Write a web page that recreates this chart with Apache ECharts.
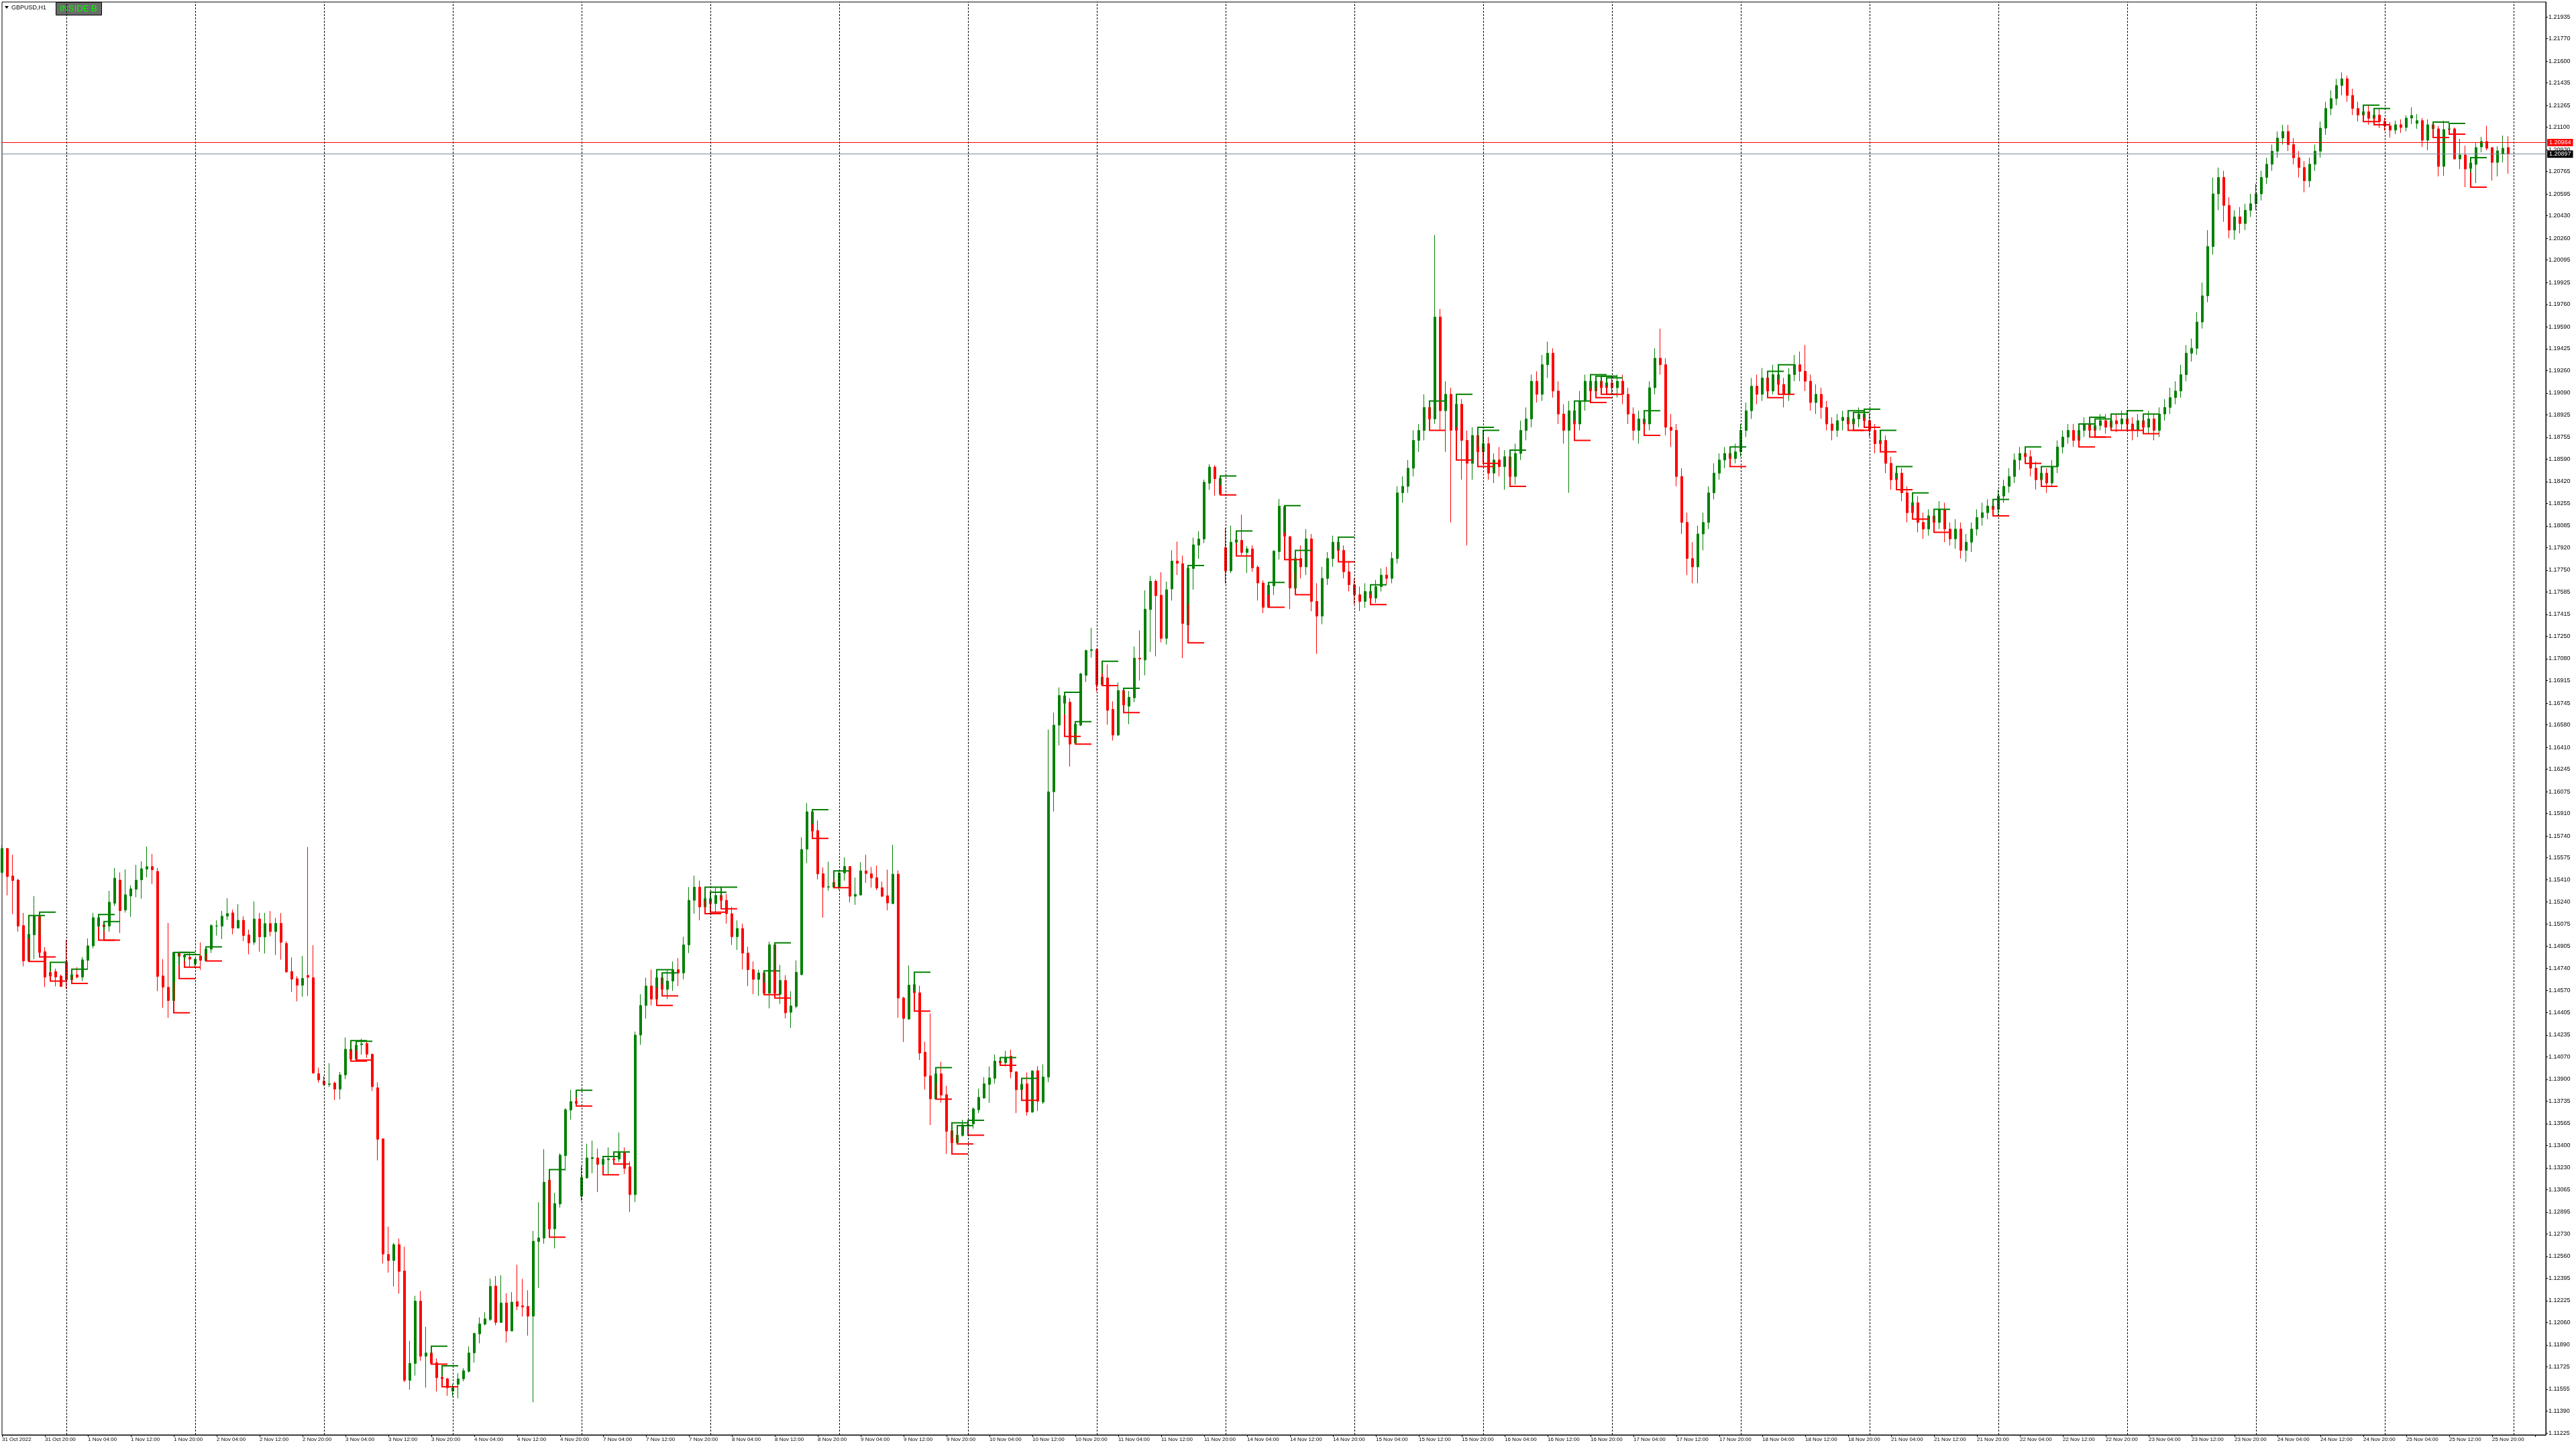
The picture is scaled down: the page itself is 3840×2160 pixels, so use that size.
<!DOCTYPE html>
<html><head><meta charset="utf-8">
<script src="https://cdn.jsdelivr.net/npm/echarts/dist/echarts.min.js"></script>
<style>html,body{margin:0;padding:0;background:#fff}#c{width:3840px;height:2160px}</style>
</head><body><div id="c"></div>
<script>
// ---- trading sessions (H1 bars) ----
const sessionDays = ['31 Oct','1 Nov','2 Nov','3 Nov','4 Nov','7 Nov','8 Nov','9 Nov','10 Nov','11 Nov',
  '14 Nov','15 Nov','16 Nov','17 Nov','18 Nov','21 Nov','22 Nov','23 Nov','24 Nov','25 Nov','26 Nov'];
const firstHour = 12;      // first bar: 31 Oct 12:00
const padBars = 7;         // empty space right of the last bar

// ---- price axis tick labels ----
const yTickLabels = [1.11225,1.11390,1.11555,1.11725,1.11890,1.12060,1.12225,1.12395,1.12560,1.12730,1.12895,
  1.13065,1.13230,1.13400,1.13565,1.13735,1.13900,1.14070,1.14235,1.14405,1.14570,1.14740,1.14905,
  1.15075,1.15240,1.15410,1.15575,1.15740,1.15910,1.16075,1.16245,1.16410,1.16580,1.16745,1.16915,
  1.17080,1.17250,1.17415,1.17585,1.17750,1.17920,1.18085,1.18255,1.18420,1.18590,1.18755,1.18925,
  1.19090,1.19260,1.19425,1.19590,1.19760,1.19925,1.20095,1.20260,1.20430,1.20595,1.20765,1.20930,
  1.21100,1.21265,1.21435,1.21600,1.21770,1.21935];
const yMin = 1.11210, yMax = 1.22047;
const redLevel = 1.20984;
const bidLevel = 1.20897;

// ---- hourly bars per day: [open, high, low, close] ----
const oct31 = [
 [1.15464,1.15670,1.15454,1.15645],[1.15645,1.15648,1.15290,1.15433],[1.15437,1.15599,1.15149,1.15403],
 [1.15406,1.15416,1.15016,1.15058],[1.15062,1.15158,1.14754,1.14795],[1.14795,1.15138,1.14791,1.14996],
 [1.14992,1.15285,1.14808,1.15133],[1.15133,1.15163,1.14825,1.14859],[1.14864,1.14899,1.14597,1.14673],
 [1.14681,1.14784,1.14642,1.14707],[1.14715,1.14737,1.14602,1.14673],[1.14680,1.14691,1.14598,1.14602]];
const nov01 = [
 [1.14788,1.14953,1.14583,1.14652],[1.14652,1.14732,1.14625,1.14690],[1.14690,1.14747,1.14663,1.14673],
 [1.14673,1.14825,1.14642,1.14803],[1.14800,1.14965,1.14732,1.14909],[1.14909,1.15158,1.14891,1.15122],
 [1.15122,1.15146,1.14952,1.15058],[1.15067,1.15092,1.14952,1.15053],[1.15058,1.15325,1.15016,1.15239],
 [1.15231,1.15498,1.15210,1.15421],[1.15406,1.15464,1.15006,1.15175],[1.15180,1.15487,1.15160,1.15295],
 [1.15286,1.15366,1.15129,1.15340],[1.15337,1.15521,1.15276,1.15406],[1.15408,1.15548,1.15266,1.15492],
 [1.15489,1.15660,1.15427,1.15508],[1.15508,1.15604,1.15376,1.15484],[1.15472,1.15498,1.14566,1.14678],
 [1.14681,1.14808,1.14440,1.14597],[1.14595,1.15082,1.14364,1.14495],[1.14495,1.14859,1.14402,1.14859],
 [1.14854,1.14859,1.14661,1.14830],[1.14838,1.14842,1.14747,1.14825],[1.14823,1.14862,1.14747,1.14808]];
const nov02 = [
 [1.14774,1.14811,1.14740,1.14808],[1.14833,1.14935,1.14727,1.14800],[1.14796,1.14901,1.14795,1.14884],
 [1.14884,1.15072,1.14855,1.15062],[1.15058,1.15102,1.14987,1.15060],[1.15058,1.15173,1.14960,1.15133],
 [1.15133,1.15269,1.15104,1.15153],[1.15158,1.15183,1.14996,1.15043],[1.15043,1.15224,1.15043,1.15102],
 [1.15102,1.15133,1.14945,1.14987],[1.14991,1.15031,1.14845,1.14931],[1.14936,1.15244,1.14916,1.15112],
 [1.15112,1.15158,1.14865,1.14977],[1.14976,1.15158,1.14851,1.15077],[1.15077,1.15172,1.14981,1.15017],
 [1.15017,1.15120,1.14840,1.15079],[1.15079,1.15156,1.14804,1.14935],[1.14927,1.14943,1.14704,1.14712],
 [1.14715,1.14821,1.14560,1.14657],[1.14660,1.14679,1.14489,1.14611],[1.14611,1.14832,1.14524,1.14663],
 [1.14685,1.15656,1.14530,1.14671],[1.14668,1.14913,1.13942,1.13947],[1.13942,1.13988,1.13874,1.13895]];
const nov03 = [
 [1.13887,1.13923,1.13852,1.13860],[1.13860,1.14021,1.13841,1.13865],[1.13871,1.13882,1.13743,1.13825],
 [1.13825,1.13955,1.13748,1.13933],[1.13933,1.14216,1.13901,1.14127],[1.14127,1.14192,1.14037,1.14053],
 [1.14053,1.14187,1.14045,1.14157],[1.14162,1.14206,1.14086,1.14168],[1.14170,1.14184,1.14061,1.14089],
 [1.14089,1.14094,1.13811,1.13844],[1.13835,1.13876,1.13286,1.13446],[1.13449,1.13452,1.12507,1.12578],
 [1.12575,1.12785,1.12437,1.12529],[1.12529,1.12662,1.12333,1.12649],[1.12649,1.12695,1.12279,1.12447],
 [1.12450,1.12633,1.11609,1.11623],[1.11623,1.11922,1.11552,1.11751],[1.11751,1.12262,1.11658,1.12222],
 [1.12222,1.12298,1.11770,1.11805],[1.11805,1.12028,1.11568,1.11830],[1.11830,1.11881,1.11745,1.11751],
 [1.11756,1.11789,1.11538,1.11642],[1.11645,1.11732,1.11574,1.11636],[1.11634,1.11642,1.11506,1.11566]];
const nov04 = [
 [1.11541,1.11595,1.11500,1.11566],[1.11593,1.11677,1.11487,1.11634],[1.11634,1.11715,1.11615,1.11696],
 [1.11691,1.11879,1.11683,1.11830],[1.11830,1.11982,1.11756,1.11977],[1.11974,1.12099,1.11903,1.12050],
 [1.12047,1.12137,1.12039,1.12088],[1.12083,1.12393,1.12072,1.12333],[1.12336,1.12412,1.12039,1.12061],
 [1.12061,1.12418,1.12056,1.12208],[1.12208,1.12281,1.11908,1.11996],[1.11996,1.12290,1.11996,1.12214],
 [1.12218,1.12497,1.12154,1.12183],[1.12187,1.12390,1.12105,1.12178],[1.12182,1.12304,1.11961,1.12108],
 [1.12108,1.12752,1.11457,1.12675],[1.12672,1.12969,1.12322,1.12700],[1.12698,1.13371,1.12656,1.13121],
 [1.13137,1.13217,1.12705,1.12768],[1.12768,1.13041,1.12621,1.12960],[1.12957,1.13340,1.12929,1.13326],
 [1.13322,1.13681,1.13210,1.13670],[1.13667,1.13819,1.13595,1.13732],[1.13732,1.13816,1.13697,1.13718]];
const nov07 = [
 [1.13016,1.13244,1.12979,1.13158],[1.13154,1.13412,1.13149,1.13305],[1.13300,1.13436,1.13189,1.13308],
 [1.13305,1.13376,1.13046,1.13256],[1.13256,1.13315,1.13177,1.13294],[1.13291,1.13385,1.13177,1.13298],
 [1.13298,1.13350,1.13259,1.13291],[1.13296,1.13497,1.13272,1.13347],[1.13347,1.13385,1.13184,1.13226],
 [1.13238,1.13279,1.12895,1.13027],[1.13027,1.14260,1.12971,1.14234],[1.14234,1.14543,1.14160,1.14458],
 [1.14458,1.14667,1.14358,1.14605],[1.14605,1.14729,1.14458,1.14506],[1.14506,1.14729,1.14458,1.14667],
 [1.14667,1.14704,1.14530,1.14580],[1.14580,1.14729,1.14506,1.14642],[1.14642,1.14791,1.14568,1.14729],
 [1.14729,1.14816,1.14605,1.14704],[1.14704,1.14978,1.14655,1.14916],[1.14916,1.15353,1.14854,1.15253],
 [1.15253,1.15440,1.15152,1.15353],[1.15353,1.15402,1.15102,1.15203],[1.15203,1.15353,1.15152,1.15266]];
const nov08 = [
 [1.15266,1.15315,1.15164,1.15228],[1.15228,1.15353,1.15164,1.15290],[1.15290,1.15353,1.15189,1.15253],
 [1.15253,1.15303,1.15077,1.15152],[1.15152,1.15203,1.14916,1.14978],[1.14978,1.15102,1.14878,1.15040],
 [1.15040,1.15077,1.14729,1.14854],[1.14854,1.14903,1.14605,1.14729],[1.14729,1.14791,1.14543,1.14655],
 [1.14655,1.14729,1.14530,1.14704],[1.14705,1.14720,1.14540,1.14551],[1.14551,1.14941,1.14436,1.14917],
 [1.14917,1.14932,1.14514,1.14551],[1.14542,1.14765,1.14469,1.14647],[1.14647,1.14687,1.14360,1.14402],
 [1.14406,1.14565,1.14288,1.14455],[1.14451,1.14799,1.14436,1.14709],[1.14691,1.15730,1.14687,1.15638],
 [1.15640,1.15988,1.15534,1.15923],[1.15923,1.15939,1.15721,1.15776],[1.15781,1.15857,1.15411,1.15453],
 [1.15454,1.15502,1.15122,1.15351],[1.15353,1.15545,1.15326,1.15356],[1.15353,1.15476,1.15349,1.15389]];
const nov09 = [
 [1.15353,1.15480,1.15331,1.15460],[1.15460,1.15578,1.15402,1.15509],[1.15509,1.15512,1.15238,1.15284],
 [1.15284,1.15425,1.15219,1.15298],[1.15293,1.15542,1.15293,1.15476],[1.15476,1.15598,1.15385,1.15456],
 [1.15454,1.15505,1.15349,1.15422],[1.15425,1.15516,1.15331,1.15346],[1.15349,1.15395,1.15277,1.15284],
 [1.15288,1.15485,1.15177,1.15233],[1.15228,1.15674,1.15224,1.15451],[1.15451,1.15480,1.14364,1.14514],
 [1.14514,1.14524,1.14182,1.14360],[1.14355,1.14760,1.14351,1.14612],[1.14616,1.14710,1.14415,1.14554],
 [1.14554,1.14607,1.14046,1.14097],[1.14104,1.14184,1.13821,1.13923],[1.13925,1.14398,1.13553,1.13752],
 [1.13752,1.13988,1.13749,1.13941],[1.13941,1.14032,1.13722,1.13780],[1.13783,1.13850,1.13335,1.13506],
 [1.13511,1.13571,1.13335,1.13420],[1.13420,1.13549,1.13411,1.13478],[1.13475,1.13593,1.13466,1.13555]];
const nov10 = [
 [1.13555,1.13589,1.13477,1.13558],[1.13562,1.13687,1.13526,1.13676],[1.13669,1.13829,1.13644,1.13763],
 [1.13758,1.13916,1.13752,1.13865],[1.13861,1.13997,1.13722,1.13910],[1.13907,1.14088,1.13867,1.14037],
 [1.14037,1.14064,1.14006,1.14025],[1.14025,1.14115,1.13997,1.14066],[1.14074,1.14124,1.13907,1.13956],
 [1.13956,1.13959,1.13644,1.13821],[1.13821,1.13907,1.13740,1.13861],[1.13865,1.13952,1.13625,1.13653],
 [1.13652,1.13969,1.13645,1.13962],[1.13965,1.13999,1.13659,1.13734],[1.13727,1.14013,1.13713,1.13917],
 [1.13917,1.16544,1.13877,1.16074],[1.16074,1.16673,1.15925,1.16578],[1.16578,1.16863,1.16425,1.16802],
 [1.16799,1.16826,1.16493,1.16744],[1.16751,1.16782,1.16265,1.16435],[1.16442,1.16605,1.16435,1.16585],
 [1.16578,1.16972,1.16571,1.16966],[1.16955,1.17149,1.16904,1.17142],[1.17142,1.17313,1.17088,1.17149]];
const nov11 = [
 [1.17149,1.17156,1.16833,1.16884],[1.16884,1.17061,1.16877,1.16942],[1.16935,1.17037,1.16581,1.16690],
 [1.16697,1.16758,1.16462,1.16503],[1.16503,1.16901,1.16496,1.16840],[1.16840,1.16857,1.16673,1.16731],
 [1.16721,1.16836,1.16585,1.16789],[1.16785,1.17173,1.16751,1.17085],[1.17085,1.17295,1.16915,1.17078],
 [1.17071,1.17598,1.16955,1.17455],[1.17452,1.17707,1.17132,1.17666],[1.17666,1.17680,1.17098,1.17557],
 [1.17561,1.17734,1.17204,1.17234],[1.17234,1.17663,1.17187,1.17602],[1.17608,1.17901,1.17520,1.17819],
 [1.17819,1.17966,1.17714,1.17802],[1.17799,1.17860,1.17085,1.17347],[1.17336,1.17785,1.17200,1.17765],
 [1.17762,1.17996,1.17602,1.17942],[1.17939,1.18044,1.17836,1.17986],[1.17986,1.18435,1.17955,1.18415],
 [1.18408,1.18551,1.18357,1.18530],[1.18530,1.18544,1.18313,1.18442],[1.18445,1.18462,1.18319,1.18326]];
const nov14 = [
 [1.17921,1.18068,1.17649,1.17745],[1.17745,1.18088,1.17728,1.17962],[1.17962,1.18047,1.17857,1.17979],
 [1.17976,1.18170,1.17864,1.17884],[1.17884,1.17932,1.17728,1.17911],[1.17911,1.17939,1.17738,1.17768],
 [1.17772,1.17785,1.17520,1.17653],[1.17653,1.17673,1.17425,1.17469],[1.17469,1.17657,1.17469,1.17636],
 [1.17632,1.17901,1.17561,1.17894],[1.17891,1.18289,1.17830,1.18234],[1.18231,1.18238,1.17830,1.18007],
 [1.18003,1.18010,1.17455,1.17615],[1.17614,1.17900,1.17564,1.17838],[1.17838,1.17937,1.17688,1.17775],
 [1.17775,1.18061,1.17713,1.17987],[1.17987,1.18024,1.17440,1.17514],[1.17514,1.17651,1.17117,1.17403],
 [1.17403,1.17775,1.17341,1.17688],[1.17688,1.17887,1.17639,1.17838],[1.17838,1.18011,1.17775,1.17962],
 [1.17962,1.17999,1.17813,1.17900],[1.17900,1.17937,1.17688,1.17738],[1.17738,1.17813,1.17589,1.17639]];
const nov15 = [
 [1.17639,1.17688,1.17490,1.17564],[1.17564,1.17626,1.17440,1.17514],[1.17514,1.17651,1.17465,1.17589],
 [1.17589,1.17639,1.17490,1.17539],[1.17539,1.17676,1.17502,1.17626],[1.17626,1.17763,1.17589,1.17713],
 [1.17713,1.17775,1.17639,1.17688],[1.17688,1.17887,1.17651,1.17838],[1.17838,1.18384,1.17800,1.18335],
 [1.18335,1.18459,1.18260,1.18384],[1.18384,1.18583,1.18335,1.18521],[1.18521,1.18807,1.18459,1.18732],
 [1.18732,1.18856,1.18645,1.18807],[1.18807,1.19080,1.18732,1.18981],[1.18981,1.19030,1.18807,1.18894],
 [1.18894,1.20285,1.18856,1.19664],[1.19664,1.19726,1.18807,1.18956],[1.18956,1.19179,1.18645,1.19080],
 [1.19080,1.19130,1.18111,1.18807],[1.18807,1.19080,1.18583,1.19005],[1.19005,1.19043,1.18434,1.18732],
 [1.18732,1.18807,1.17937,1.18558],[1.18558,1.18831,1.18434,1.18769],[1.18769,1.18831,1.18533,1.18645]];
const nov16 = [
 [1.18645,1.18807,1.18558,1.18707],[1.18707,1.18757,1.18434,1.18484],[1.18484,1.18633,1.18409,1.18583],
 [1.18583,1.18682,1.18459,1.18533],[1.18533,1.18658,1.18359,1.18608],[1.18608,1.18658,1.18384,1.18459],
 [1.18459,1.18707,1.18397,1.18633],[1.18633,1.18881,1.18583,1.18807],[1.18807,1.18981,1.18732,1.18894],
 [1.18894,1.19229,1.18831,1.19179],[1.19179,1.19254,1.19018,1.19080],[1.19080,1.19378,1.19030,1.19304],
 [1.19304,1.19478,1.19204,1.19391],[1.19391,1.19428,1.19055,1.19105],[1.19105,1.19179,1.18856,1.18931],
 [1.18931,1.19005,1.18707,1.18807],[1.18807,1.19030,1.18335,1.18956],[1.18956,1.19030,1.18732,1.18856],
 [1.18856,1.19105,1.18807,1.19030],[1.19030,1.19229,1.18956,1.19179],[1.19179,1.19229,1.19018,1.19105],
 [1.19105,1.19217,1.19055,1.19179],[1.19179,1.19217,1.19080,1.19130],[1.19130,1.19204,1.19080,1.19167]];
const nov17 = [
 [1.19167,1.19217,1.19080,1.19130],[1.19130,1.19229,1.19055,1.19179],[1.19179,1.19229,1.19005,1.19080],
 [1.19080,1.19130,1.18856,1.18931],[1.18931,1.18981,1.18732,1.18807],[1.18807,1.18956,1.18707,1.18894],
 [1.18894,1.18956,1.18769,1.18856],[1.18856,1.19179,1.18807,1.19130],[1.19130,1.19428,1.19080,1.19353],
 [1.19353,1.19577,1.19229,1.19304],[1.19304,1.19353,1.18769,1.18831],[1.18831,1.18931,1.18682,1.18807],
 [1.18807,1.18856,1.18384,1.18459],[1.18459,1.18521,1.18024,1.18111],[1.18111,1.18185,1.17713,1.17838],
 [1.17838,1.17962,1.17651,1.17775],[1.17775,1.18086,1.17651,1.18024],[1.18024,1.18185,1.17900,1.18111],
 [1.18111,1.18384,1.18061,1.18335],[1.18335,1.18558,1.18285,1.18484],[1.18484,1.18633,1.18434,1.18583],
 [1.18583,1.18682,1.18521,1.18633],[1.18633,1.18682,1.18533,1.18595],[1.18595,1.18707,1.18558,1.18645]];
const nov18 = [
 [1.18645,1.18856,1.18608,1.18807],[1.18807,1.19018,1.18757,1.18956],[1.18956,1.19204,1.18894,1.19142],
 [1.19142,1.19229,1.19005,1.19080],[1.19080,1.19279,1.19030,1.19204],[1.19204,1.19254,1.19055,1.19105],
 [1.19105,1.19304,1.19080,1.19229],[1.19229,1.19304,1.19080,1.19155],[1.19155,1.19204,1.18981,1.19080],
 [1.19080,1.19279,1.19030,1.19229],[1.19229,1.19378,1.19179,1.19304],[1.19304,1.19403,1.19179,1.19254],
 [1.19254,1.19453,1.19105,1.19179],[1.19179,1.19229,1.18956,1.19018],[1.19018,1.19155,1.18931,1.19080],
 [1.19080,1.19130,1.18894,1.18981],[1.18981,1.19030,1.18807,1.18856],[1.18856,1.18906,1.18732,1.18807],
 [1.18807,1.18931,1.18757,1.18881],[1.18881,1.18956,1.18807,1.18906],[1.18906,1.18956,1.18807,1.18856],
 [1.18856,1.18943,1.18807,1.18894],[1.18894,1.18981,1.18831,1.18931],[1.18931,1.18968,1.18831,1.18881]];
const nov21 = [
 [1.18881,1.18931,1.18757,1.18807],[1.18807,1.18856,1.18633,1.18707],[1.18707,1.18807,1.18645,1.18732],
 [1.18732,1.18769,1.18484,1.18558],[1.18558,1.18608,1.18359,1.18434],[1.18434,1.18533,1.18359,1.18484],
 [1.18484,1.18521,1.18272,1.18335],[1.18335,1.18384,1.18111,1.18185],[1.18185,1.18335,1.18136,1.18260],
 [1.18260,1.18310,1.18036,1.18111],[1.18111,1.18185,1.17987,1.18061],[1.18061,1.18210,1.18011,1.18161],
 [1.18161,1.18210,1.18036,1.18111],[1.18111,1.18272,1.18061,1.18210],[1.18210,1.18260,1.17962,1.18061],
 [1.18061,1.18111,1.17937,1.17987],[1.17987,1.18136,1.17912,1.18061],[1.18061,1.18111,1.17838,1.17900],
 [1.17900,1.18024,1.17813,1.17962],[1.17962,1.18111,1.17887,1.18061],[1.18061,1.18210,1.18011,1.18148],
 [1.18148,1.18260,1.18086,1.18185],[1.18185,1.18285,1.18136,1.18235],[1.18235,1.18285,1.18161,1.18210]];
const nov22 = [
 [1.18210,1.18359,1.18161,1.18310],[1.18310,1.18434,1.18260,1.18384],[1.18384,1.18521,1.18335,1.18459],
 [1.18459,1.18633,1.18409,1.18583],[1.18583,1.18682,1.18508,1.18633],[1.18633,1.18682,1.18558,1.18608],
 [1.18608,1.18658,1.18459,1.18521],[1.18521,1.18571,1.18359,1.18434],[1.18434,1.18533,1.18384,1.18484],
 [1.18484,1.18521,1.18335,1.18409],[1.18409,1.18583,1.18384,1.18533],[1.18533,1.18732,1.18484,1.18682],
 [1.18682,1.18807,1.18633,1.18757],[1.18757,1.18856,1.18707,1.18807],[1.18807,1.18856,1.18682,1.18732],
 [1.18732,1.18856,1.18682,1.18807],[1.18807,1.18906,1.18757,1.18856],[1.18856,1.18906,1.18757,1.18807],
 [1.18807,1.18894,1.18757,1.18844],[1.18844,1.18931,1.18807,1.18881],[1.18881,1.18931,1.18782,1.18831],
 [1.18831,1.18931,1.18807,1.18881],[1.18881,1.18931,1.18794,1.18856],[1.18856,1.18956,1.18807,1.18894]];
const nov23 = [
 [1.18894,1.18956,1.18807,1.18856],[1.18856,1.18906,1.18732,1.18807],[1.18807,1.18931,1.18757,1.18881],
 [1.18881,1.18931,1.18782,1.18831],[1.18831,1.18956,1.18782,1.18894],[1.18894,1.18931,1.18732,1.18807],
 [1.18807,1.18981,1.18757,1.18931],[1.18931,1.19043,1.18881,1.18981],[1.18981,1.19130,1.18931,1.19055],
 [1.19055,1.19179,1.19005,1.19105],[1.19105,1.19304,1.19055,1.19229],[1.19229,1.19453,1.19179,1.19391],
 [1.19391,1.19502,1.19328,1.19428],[1.19428,1.19701,1.19378,1.19627],[1.19627,1.19925,1.19577,1.19825],
 [1.19825,1.20322,1.19776,1.20198],[1.20198,1.20720,1.20136,1.20596],[1.20596,1.20795,1.20472,1.20720],
 [1.20720,1.20770,1.20385,1.20509],[1.20509,1.20571,1.20260,1.20322],[1.20322,1.20472,1.20248,1.20422],
 [1.20422,1.20496,1.20298,1.20372],[1.20372,1.20521,1.20322,1.20472],[1.20472,1.20596,1.20422,1.20521]];
const nov24 = [
 [1.20521,1.20670,1.20472,1.20596],[1.20596,1.20770,1.20546,1.20720],[1.20720,1.20869,1.20670,1.20820],
 [1.20820,1.20969,1.20770,1.20919],[1.20919,1.21068,1.20869,1.21018],[1.21018,1.21118,1.20969,1.21068],
 [1.21068,1.21118,1.20919,1.20969],[1.20969,1.21018,1.20820,1.20869],[1.20869,1.20919,1.20720,1.20795],
 [1.20795,1.20844,1.20608,1.20695],[1.20695,1.20869,1.20646,1.20820],[1.20820,1.20969,1.20770,1.20919],
 [1.20919,1.21143,1.20869,1.21093],[1.21093,1.21292,1.21043,1.21242],[1.21242,1.21379,1.21192,1.21317],
 [1.21317,1.21466,1.21267,1.21416],[1.21416,1.21515,1.21341,1.21466],[1.21466,1.21490,1.21292,1.21341],
 [1.21341,1.21391,1.21192,1.21242],[1.21242,1.21292,1.21143,1.21192],[1.21192,1.21267,1.21143,1.21217],
 [1.21217,1.21267,1.21118,1.21167],[1.21167,1.21242,1.21118,1.21192],[1.21192,1.21242,1.21093,1.21143]];
const nov25 = [
 [1.21144,1.21169,1.21073,1.21110],[1.21110,1.21139,1.21022,1.21078],[1.21078,1.21150,1.21047,1.21119],
 [1.21119,1.21159,1.21057,1.21098],[1.21098,1.21189,1.21068,1.21169],[1.21169,1.21250,1.21124,1.21189],
 [1.21129,1.21199,1.21088,1.21150],[1.21150,1.21169,1.20951,1.21002],[1.21002,1.21159,1.20926,1.21119],
 [1.21119,1.21139,1.21022,1.21088],[1.21088,1.21110,1.20728,1.20804],[1.20804,1.21150,1.20733,1.21083],
 [1.21083,1.21129,1.21047,1.21088],[1.21088,1.21098,1.20855,1.20860],[1.20860,1.21012,1.20784,1.20890],
 [1.20890,1.20961,1.20647,1.20784],[1.20789,1.20870,1.20647,1.20829],[1.20819,1.20981,1.20677,1.20946],
 [1.20951,1.21027,1.20910,1.20992],[1.20992,1.21110,1.20926,1.20941],[1.20946,1.20946,1.20697,1.20834],
 [1.20834,1.20956,1.20728,1.20921],[1.20900,1.21037,1.20834,1.20941],[1.20946,1.21032,1.20748,1.20897]];
const dayBars = [oct31,nov01,nov02,nov03,nov04,nov07,nov08,nov09,nov10,nov11,nov14,nov15,nov16,nov17,nov18,nov21,nov22,nov23,nov24,nov25];

// ---- build categories & series ----
const categories = [];
const bars = [];
sessionDays.forEach((d, k) => {
  const h0 = k === 0 ? firstHour : 0;
  const h1 = k === sessionDays.length - 1 ? padBars - 1 : 23;
  for (let h = h0; h <= h1; h++) {
    categories.push(d + ' ' + String(h).padStart(2, '0') + ':00');
    if (k < dayBars.length) {
      const row = dayBars[k][h - h0];
      bars.push(row ? [row[0], row[3], row[2], row[1]] : ['-', '-', '-', '-']);
    }
  }
});
const nBars = bars.length;

// inside bars -> bracket lines (green at high, red at low)
const insideMarks = [];
for (let j = 1; j < nBars; j++) {
  const a = bars[j - 1], b = bars[j];
  if (a[0] === '-' || b[0] === '-') continue;
  if (b[3] <= a[3] && b[2] >= a[2]) insideMarks.push([j, Math.min(j + 3, nBars - 1), b[3], b[2]]);
}

const midnightLines = [];
categories.forEach((c) => { if (c.endsWith(' 00:00')) midnightLines.push({ xAxis: c }); });

const FONT = '"Liberation Sans", Arial, sans-serif';
const chart = echarts.init(document.getElementById('c'), null, { renderer: 'canvas' });
chart.setOption({
  animation: false,
  backgroundColor: '#ffffff',
  grid: { left: 3, right: 45, top: 3, bottom: 21, show: true, borderColor: '#000', borderWidth: 1, backgroundColor: 'transparent' },
  xAxis: {
    type: 'category', data: categories, boundaryGap: false,
    axisLine: { lineStyle: { color: '#000', width: 1 } },
    axisTick: { show: true, interval: 7, length: 3, lineStyle: { color: '#000' } },
    axisLabel: {
      interval: 7, align: 'left', margin: 3, fontSize: 8, color: '#000', fontFamily: FONT,
      formatter: (v, i) => i === 0 ? '31 Oct 2022' : (i >= nBars ? '' : v)
    },
    splitLine: { show: false }
  },
  yAxis: {
    type: 'value', position: 'right', min: yMin, max: yMax, scale: true,
    axisLine: { show: true, lineStyle: { color: '#000', width: 1 } },
    axisTick: { show: true, length: 3, customValues: yTickLabels, lineStyle: { color: '#000' } },
    axisLabel: { customValues: yTickLabels, margin: 4, fontSize: 9, color: '#000', fontFamily: FONT, formatter: v => v.toFixed(5) },
    splitLine: { show: false }
  },
  graphic: [
    { type: 'polygon', shape: { points: [[7, 9], [13, 9], [10, 13]] }, style: { fill: '#000' } },
    { type: 'text', x: 17, y: 12, style: { text: 'GBPUSD,H1', fontSize: 9, fontFamily: FONT, fill: '#000', verticalAlign: 'middle' } },
    { type: 'rect', shape: { x: 83.5, y: 3.5, width: 68, height: 19 }, style: { fill: '#6b6b6b', stroke: '#000', lineWidth: 1 } },
    { type: 'text', x: 89, y: 13.5, style: { text: 'INSIDE B', fontSize: 13, fontFamily: FONT, fill: '#00ff00', verticalAlign: 'middle' } }
  ],
  series: [
    {
      type: 'candlestick', data: bars, barWidth: 4,
      itemStyle: { color: '#008000', color0: '#ff0000', borderColor: '#008000', borderColor0: '#ff0000', borderWidth: 1 },
      markLine: {
        symbol: 'none', silent: true, animation: false, precision: 5,
        data: [
          ...midnightLines.map(m => ({ ...m, lineStyle: { color: '#000', type: [3, 2], width: 1 }, label: { show: false } })),
          { yAxis: redLevel, lineStyle: { color: '#ff0000', type: 'solid', width: 1 },
            label: { show: true, position: 'end', distance: 2, formatter: redLevel.toFixed(5), backgroundColor: '#ff0000', color: '#fff', fontSize: 9, fontFamily: FONT, padding: [1, 3, 1, 3] } },
          { yAxis: bidLevel, lineStyle: { color: '#778899', type: 'solid', width: 1 },
            label: { show: true, position: 'end', distance: 2, formatter: bidLevel.toFixed(5), backgroundColor: '#000', color: '#fff', fontSize: 9, fontFamily: FONT, padding: [1, 3, 1, 3] } }
        ]
      }
    },
    {
      type: 'custom', data: insideMarks, encode: { x: [0, 1], y: [2, 3] }, silent: true, z: 3,
      renderItem: (params, api) => {
        const s = api.value(0), e = api.value(1), hi = api.value(2), lo = api.value(3);
        const a = api.coord([s, hi]), b = api.coord([e, hi]), c = api.coord([s, lo]), d = api.coord([e, lo]);
        const mid = (a[1] + c[1]) / 2;
        return { type: 'group', children: [
          { type: 'polyline', shape: { points: [[a[0], mid], [a[0], a[1]], [b[0], b[1]]] }, style: { stroke: '#008000', lineWidth: 2, fill: null } },
          { type: 'polyline', shape: { points: [[c[0], mid], [c[0], c[1]], [d[0], d[1]]] }, style: { stroke: '#ff0000', lineWidth: 2, fill: null } }
        ] };
      }
    }
  ]
});
</script></body></html>
